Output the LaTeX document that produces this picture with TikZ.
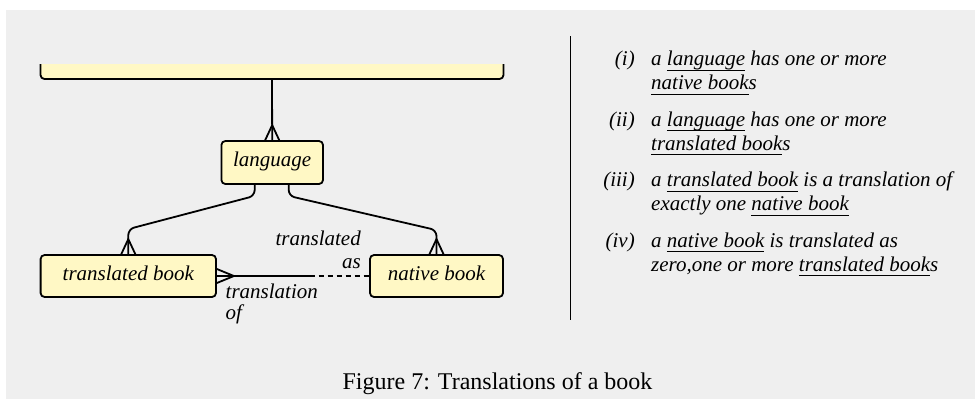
\documentclass[tikz,border=0pt]{standalone}
\usepackage{fontspec}
\setmainfont{Liberation Serif}
\usetikzlibrary{calc}
\definecolor{panel}{RGB}{239,239,239}
\definecolor{entityfill}{RGB}{255,248,197}
% underline at a fixed distance below the baseline
\newsavebox\ulbox
\newcommand\ulword[1]{\sbox\ulbox{#1}\rlap{\rule[-5pt]{\wd\ulbox}{0.8pt}}\usebox\ulbox}

\begin{document}
\begin{tikzpicture}[x=1pt,y=-1pt,
  entity/.style={draw, line width=1.8pt, rounded corners=4pt, fill=entityfill,
    inner sep=0pt, minimum height=42pt,
    font=\fontsize{21}{25}\selectfont\itshape, text height=14.7pt, text depth=6.3pt},
  link/.style={line width=1.8pt},
  txt/.style={font=\fontsize{21}{25}\selectfont\itshape, inner sep=0pt},
  itemno/.style={txt, anchor=base east},
  itemtext/.style={txt, anchor=base west},
]
\useasboundingbox (0,0) rectangle (975,400);
\fill[white] (0,0) rectangle (975,400);
\fill[panel] (6,10) rectangle (975,399);

% entity boxes
\begin{scope}
  \clip (0,64) rectangle (975,400);
  \node[entity, minimum width=463pt, minimum height=40pt] (top) at (272,59) {};
\end{scope}
\node[entity, minimum width=101.6pt, minimum height=43pt] (lang) at (272.2,162.5) {language};
\node[entity, minimum width=175.4pt] (tb) at (128.3,276) {translated book};
\node[entity, minimum width=133pt] (nb) at (436.5,276) {native book};

% top box to language, crow's foot at language
\draw[link] (top.south) -- (lang.north);
\draw[link] ($(lang.north)+(-7,0)$) -- ($(lang.north)+(0,-15)$) -- ($(lang.north)+(7,0)$);

% language to translated book
\draw[link, rounded corners=6pt] ($(lang.south)+(-17.5,0)$) -- ++(0,11)
  -- ($(tb.north)+(0,-25)$) -- (tb.north);
\draw[link] ($(tb.north)+(-7,0)$) -- ($(tb.north)+(0,-15)$) -- ($(tb.north)+(7,0)$);

% language to native book
\draw[link, rounded corners=6pt] ($(lang.south)+(16.5,0)$) -- ++(0,11)
  -- ($(nb.north)+(0,-24)$) -- (nb.north);
\draw[link] ($(nb.north)+(-7,0)$) -- ($(nb.north)+(0,-15)$) -- ($(nb.north)+(7,0)$);

% translation relationship: solid half, dashed half
\coordinate (split) at ($(tb.east)!0.61!(nb.west)$);
\draw[link] (tb.east) -- (split);
\draw[link, dash pattern=on 5pt off 4pt] (split) -- (nb.west);
\draw[link] ($(tb.east)+(0,-7)$) -- ($(tb.east)+(17,0)$) -- ($(tb.east)+(0,7)$);

\node[txt, anchor=base east] (asA) at (361,245) {translated};
\node[txt, anchor=base east] (asB) at (361,268) {as};
\node[txt, anchor=base west] (ofA) at (225.5,298) {translation};
\node[txt, anchor=base west] (ofB) at (225.5,319) {of};

% separator
\draw[line width=1.2pt] (570.7,36) -- (570.7,320);

% rules
\node[itemno] (n1) at (635,65.5) {(i)};
\node[itemtext] (t1a) at (651,65.5) {a \ulword{language} has one or more};
\node[itemtext] (t1b) at (651,89.5) {\ulword{native book}s};

\node[itemno] (n2) at (635,126) {(ii)};
\node[itemtext] (t2a) at (651,126) {a \ulword{language} has one or more};
\node[itemtext] (t2b) at (651,150) {\ulword{translated book}s};

\node[itemno] (n3) at (635,186.5) {(iii)};
\node[itemtext] (t3a) at (651,186.5) {a \ulword{translated book} is a translation of};
\node[itemtext] (t3b) at (651,210.5) {exactly one \ulword{native book}};

\node[itemno] (n4) at (635,247) {(iv)};
\node[itemtext] (t4a) at (651,247) {a \ulword{native book} is translated as};
\node[itemtext] (t4b) at (651,271) {zero,one or more \ulword{translated book}s};

% caption
\node[font=\fontsize{24}{28}\selectfont, inner sep=0pt, anchor=base] (cap) at (497.5,389)
  {Figure 7: Translations of a book};
\end{tikzpicture}
\end{document}
